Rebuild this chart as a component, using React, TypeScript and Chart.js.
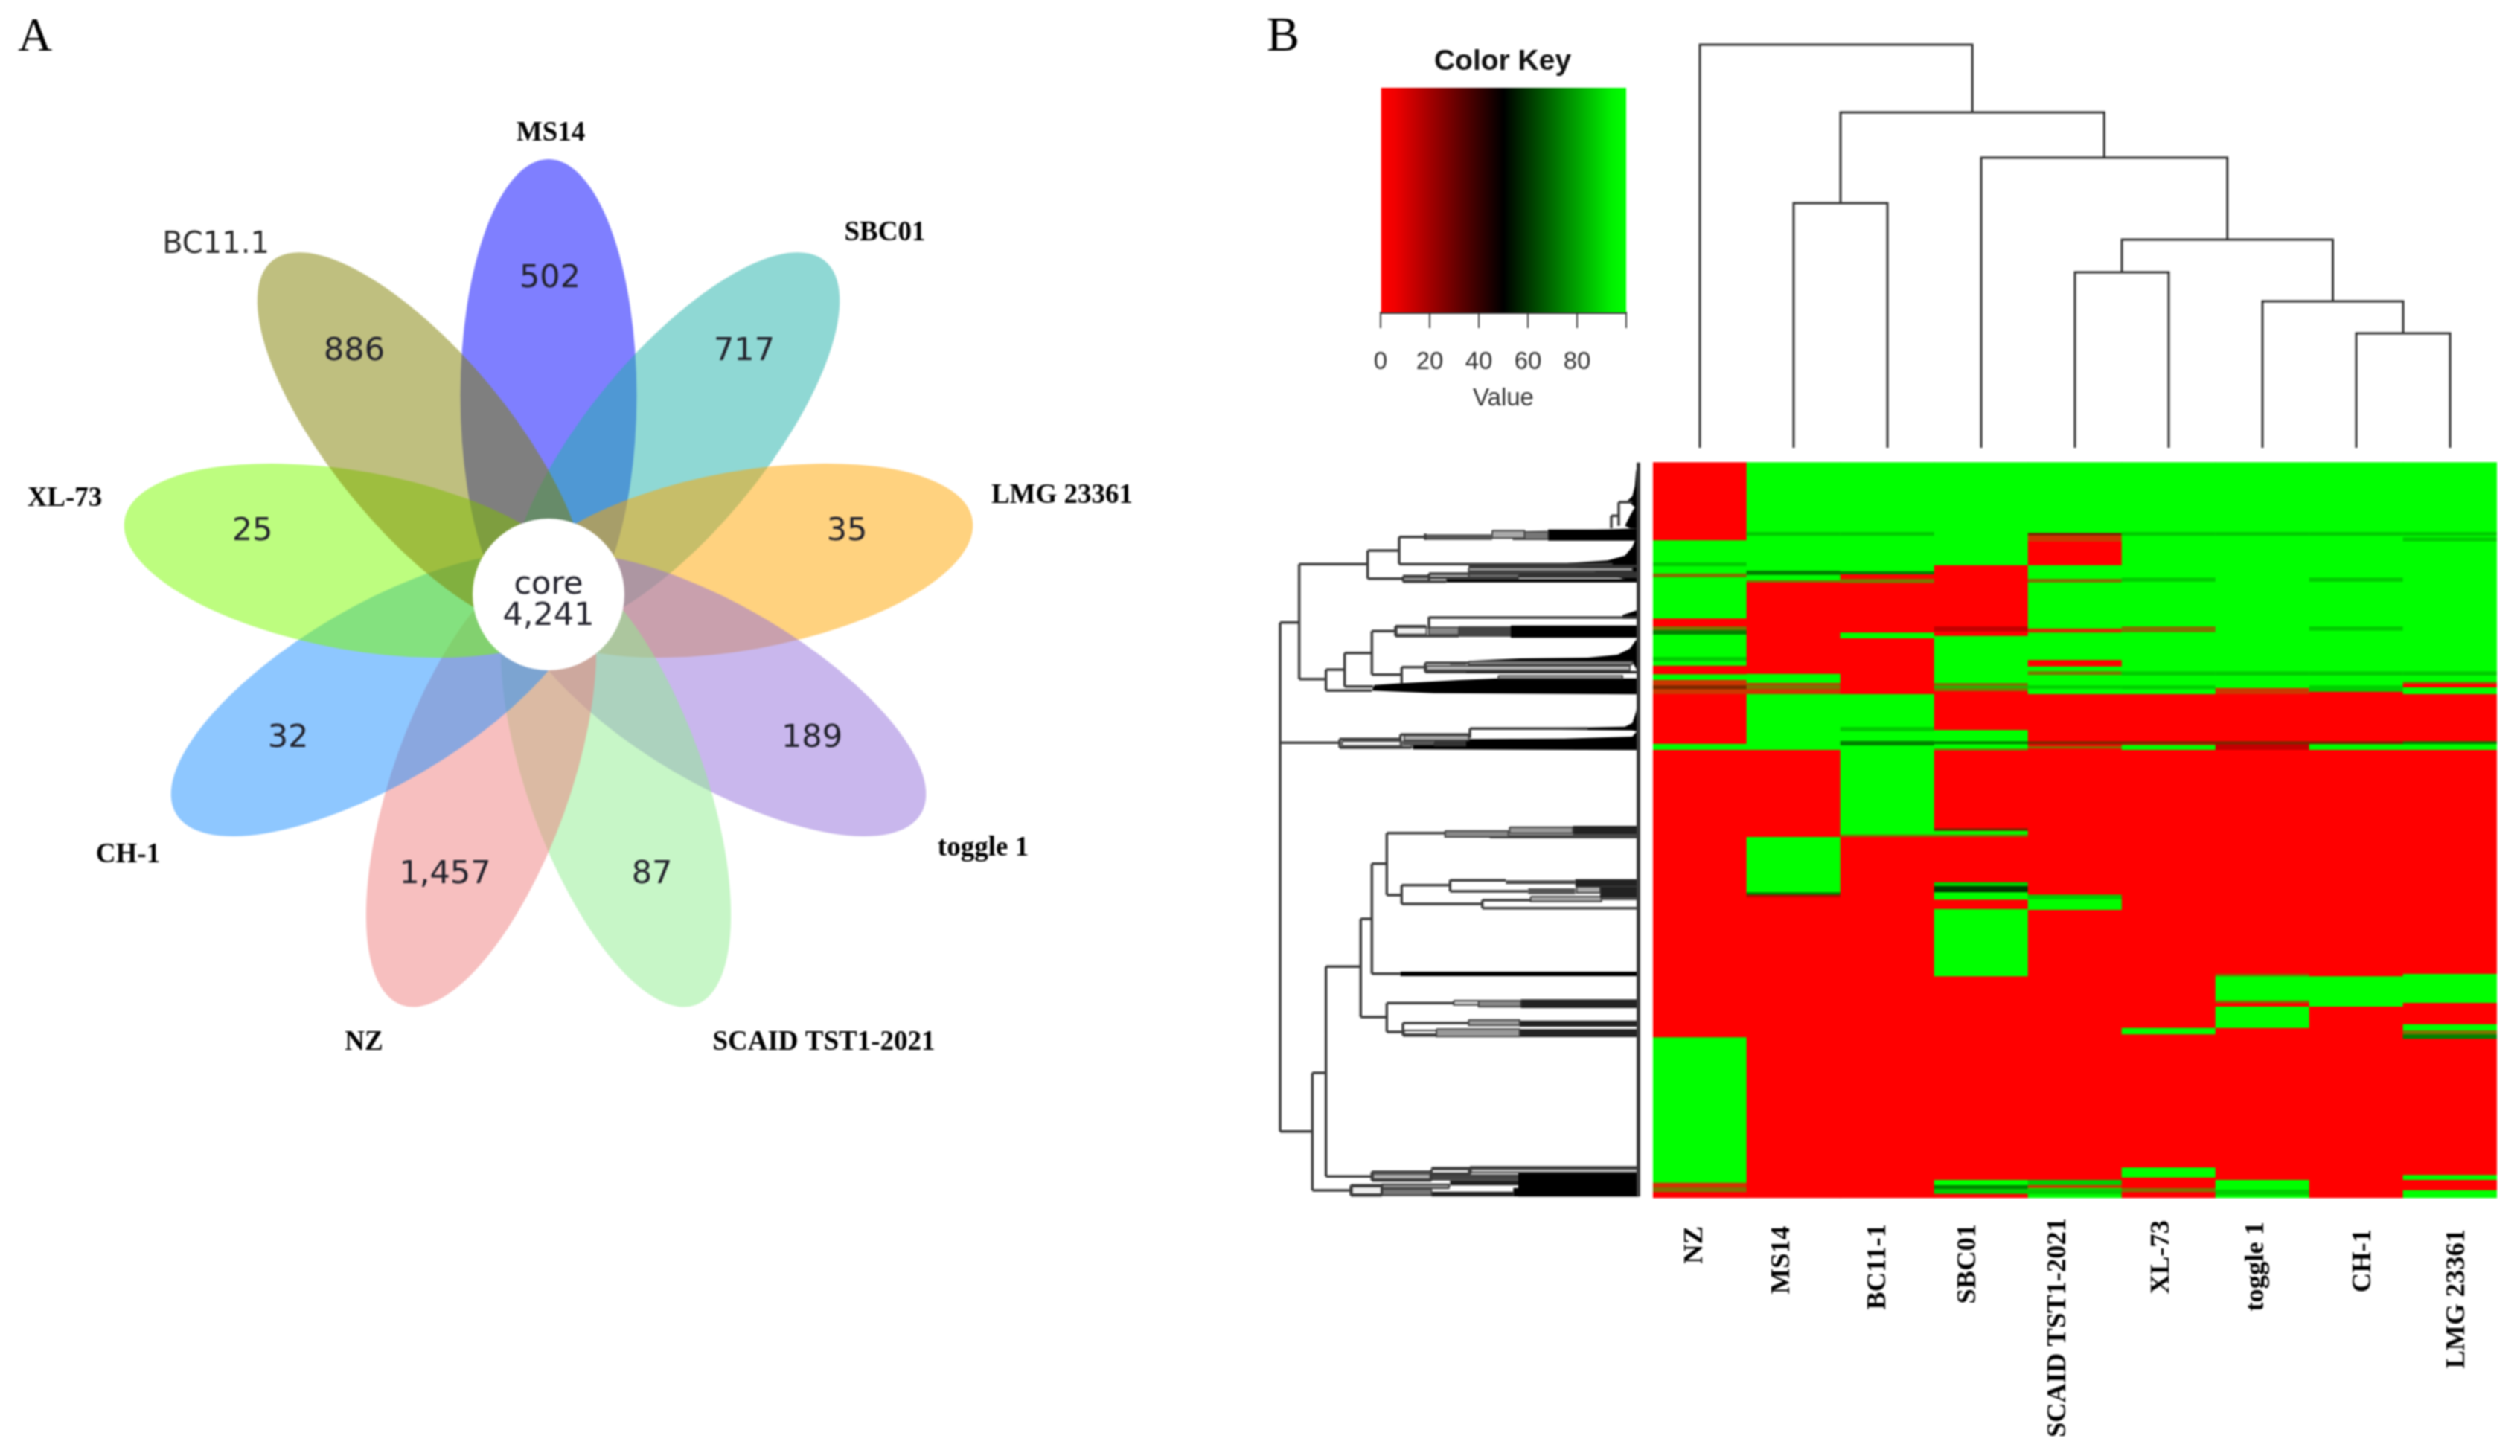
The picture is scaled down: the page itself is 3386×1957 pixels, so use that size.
import React, { useEffect, useRef } from "react";
import { Chart, registerables } from "chart.js";

Chart.register(...registerables);

/* ---------- Panel A: petal diagram ---------- */
const petalNames = ["MS14", "SBC01", "LMG 23361", "toggle 1", "SCAID TST1-2021", "NZ", "CH-1", "XL-73", "BC11.1"];
const petalCounts = ["502", "717", "35", "189", "87", "1,457", "32", "25", "886"];
const petalAngles = [90, 50, 10, -30, -70, -110, -150, 170, 130];
const petalColors = [
  "rgba(0,0,255,0.5)", "rgba(32,178,170,0.5)", "rgba(255,165,0,0.5)", "rgba(147,112,219,0.5)",
  "rgba(144,238,144,0.5)", "rgba(240,128,128,0.5)", "rgba(30,144,255,0.5)", "rgba(124,252,0,0.5)", "rgba(128,128,0,0.5)",
];
const coreLabel = ["core", "4,241"];
const countSpots = [[739, 375], [1000, 473], [1138, 715], [1091, 993], [876, 1176], [598, 1176], [387, 993], [339, 715], [476, 473]];
const nameSpots = [[740, 179], [1189, 313], [1427, 666], [1321, 1140], [1107, 1401], [489, 1401], [172, 1149], [87, 670], [290, 330]];

/* ---------- Panel B: colour key ---------- */
const keyTicks = [0, 20, 40, 60, 80, 100];
const keyStops: [number, string][] = [[0, "#ff0000"], [0.06, "#f00000"], [0.5, "#000000"], [0.94, "#00f000"], [1, "#00ff00"]];

/* ---------- Panel B: strains and their dendrogram ---------- */
const strains = ["NZ", "MS14", "BC11-1", "SBC01", "SCAID TST1-2021", "XL-73", "toggle 1", "CH-1", "LMG 23361"];
// merge = [left, right, height]; a child >= 0 is a strain, a child < 0 is merge number -1-child
const strainMerges: [number, number, number][] = [
  [7, 8, 154], [6, -1, 197], [4, 5, 236], [-3, -2, 280], [3, -4, 390], [1, 2, 329], [-6, -5, 451], [0, -7, 542],
];
const strainLabelX = [2278, 2395, 2524, 2645, 2766, 2905, 3032, 3176, 3302];
const strainLabelEnd = [1648, 1648, 1645, 1645, 1637, 1640, 1642, 1652, 1652];

/* ---------- Panel B: heat map runs per strain: [fromRow, toRow, shade], later ones lie on top ---------- */
const shades: Record<string, string> = {
  G: "rgb(0,255,0)", R: "rgb(255,0,0)", g: "rgb(0,205,0)", d: "rgb(0,130,0)",
  o: "rgb(125,115,0)", b: "rgb(205,55,0)", m: "rgb(120,40,0)", n: "rgb(0,60,0)", e: "rgb(195,0,0)",
};
type Run = [number, number, string];
const runsNZ: Run[] = [
  [35, 350, "R"], [350, 665, "G"], [438, 452, "g"], [483, 497, "o"], [665, 697, "R"], [697, 712, "o"], [712, 730, "d"],
  [730, 855, "G"], [820, 835, "g"], [855, 890, "R"], [890, 912, "G"], [912, 935, "b"], [935, 950, "m"], [950, 970, "b"],
  [970, 1170, "R"], [1170, 1195, "G"], [1195, 2354, "R"], [2354, 2940, "G"], [2940, 2960, "b"], [2960, 2978, "o"], [2978, 3000, "R"],
];
const runsMS14: Run[] = [
  [35, 520, "G"], [316, 330, "g"], [472, 487, "d"], [510, 520, "o"], [520, 888, "R"], [888, 925, "G"], [925, 932, "b"],
  [932, 950, "o"], [950, 970, "b"], [970, 1195, "G"], [1195, 1546, "R"], [1546, 1769, "G"], [1769, 1779, "d"], [1779, 1790, "e"], [1790, 3000, "R"],
];
const runsBC11: Run[] = [
  [35, 475, "G"], [316, 330, "g"], [474, 487, "d"], [487, 505, "R"], [505, 522, "o"], [522, 722, "R"], [722, 745, "G"],
  [745, 970, "R"], [970, 1535, "G"], [1102, 1118, "g"], [1158, 1175, "d"], [1536, 1546, "o"], [1546, 3000, "R"],
];
const runsSBC01: Run[] = [
  [35, 450, "G"], [450, 700, "R"], [697, 717, "e"], [717, 735, "R"], [735, 925, "G"], [925, 938, "o"], [938, 945, "g"], [945, 958, "o"],
  [958, 1115, "R"], [1115, 1160, "G"], [1160, 1172, "d"], [1172, 1190, "G"], [1190, 1198, "o"], [1198, 1511, "R"], [1511, 1521, "m"],
  [1521, 1536, "G"], [1536, 1546, "o"], [1546, 1728, "R"], [1728, 1744, "g"], [1744, 1769, "n"], [1769, 1799, "G"], [1799, 1837, "R"],
  [1837, 2108, "G"], [2108, 2929, "R"], [2929, 2950, "G"], [2950, 2965, "d"], [2965, 2985, "g"], [2985, 3000, "R"],
];
const runsSCAID: Run[] = [
  [35, 320, "G"], [320, 330, "m"], [330, 355, "b"], [355, 450, "R"], [450, 505, "G"], [505, 520, "o"], [520, 705, "G"], [705, 722, "b"],
  [722, 833, "G"], [833, 858, "R"], [858, 878, "G"], [878, 893, "o"], [893, 935, "G"], [935, 948, "g"], [948, 970, "G"],
  [970, 1160, "R"], [1160, 1172, "m"], [1172, 1180, "R"], [1180, 1190, "o"], [1190, 1779, "R"], [1779, 1840, "G"], [1779, 1795, "g"],
  [1840, 2929, "R"], [2929, 2950, "g"], [2950, 2962, "b"], [2962, 3000, "G"], [2965, 2985, "g"],
];
const runsXL73: Run[] = [
  [35, 970, "G"], [316, 330, "g"], [500, 515, "g"], [697, 718, "o"], [878, 893, "g"], [935, 948, "g"], [970, 1160, "R"], [1160, 1172, "m"],
  [1172, 1175, "R"], [1175, 1195, "G"], [1195, 2316, "R"], [2316, 2342, "G"], [2342, 2879, "R"], [2879, 2919, "G"], [2919, 2962, "R"],
  [2962, 2978, "o"], [2978, 3000, "R"],
];
const runsToggle: Run[] = [
  [35, 945, "G"], [316, 330, "g"], [878, 893, "g"], [945, 970, "b"], [970, 1160, "R"], [1160, 1172, "m"], [1172, 1195, "e"], [1195, 2098, "R"],
  [2098, 2108, "o"], [2108, 2205, "G"], [2205, 2215, "o"], [2215, 2230, "R"], [2230, 2316, "G"], [2316, 2929, "R"], [2929, 2968, "G"],
  [2968, 2990, "g"], [2990, 3000, "G"],
];
const runsCH1: Run[] = [
  [35, 960, "G"], [316, 330, "g"], [500, 515, "g"], [697, 712, "g"], [878, 893, "g"], [935, 958, "g"], [960, 1160, "R"], [1160, 1172, "m"],
  [1172, 1195, "G"], [1195, 2108, "R"], [2108, 2230, "G"], [2230, 3000, "R"],
];
const runsLMG: Run[] = [
  [35, 920, "G"], [316, 330, "g"], [338, 352, "g"], [878, 893, "g"], [920, 928, "o"], [928, 943, "R"], [943, 970, "G"], [970, 1160, "R"],
  [1160, 1172, "d"], [1172, 1195, "G"], [1195, 2098, "R"], [2098, 2215, "G"], [2215, 2301, "R"], [2301, 2326, "G"], [2326, 2342, "o"],
  [2342, 2360, "d"], [2360, 2909, "R"], [2909, 2929, "G"], [2929, 2970, "R"], [2970, 3000, "G"],
];
const strainRuns = [runsNZ, runsMS14, runsBC11, runsSBC01, runsSCAID, runsXL73, runsToggle, runsCH1, runsLMG];

/* ---------- Panel B: gene dendrogram, [depth1, row1, depth2, row2] ---------- */
const geneTreeLines: number[][] = [
  [60, 680, 60, 2732], [60, 680, 137, 680], [60, 1165, 300, 1165], [60, 2732, 190, 2732],
  [137, 445, 137, 908], [137, 445, 413, 445], [137, 908, 245, 908], [413, 390, 413, 503], [413, 390, 540, 390], [413, 503, 555, 503],
  [540, 335, 540, 445], [540, 335, 645, 335], [540, 445, 1400, 445], [555, 495, 555, 512], [645, 322, 645, 347],
  [555, 493, 660, 493], [555, 515, 730, 515], [660, 483, 660, 515], [660, 483, 1020, 483], [660, 500, 1020, 500],
  [1425, 195, 1425, 290], [1425, 195, 1480, 195], [1395, 250, 1425, 250], [1395, 250, 1395, 300],
  [430, 715, 430, 890], [430, 715, 525, 715], [525, 695, 525, 735], [525, 695, 650, 695], [525, 735, 780, 735],
  [660, 657, 660, 705], [660, 660, 1500, 660], [430, 890, 550, 890], [320, 803, 430, 803], [320, 803, 320, 938],
  [245, 870, 320, 870], [245, 870, 245, 955], [245, 955, 430, 955], [320, 938, 435, 938],
  [550, 860, 550, 925], [550, 860, 645, 860], [645, 843, 645, 880], [645, 843, 820, 843], [645, 880, 810, 880],
  [825, 1108, 825, 1145], [825, 1108, 1300, 1108], [300, 1150, 300, 1185], [300, 1150, 545, 1150], [300, 1185, 590, 1185],
  [545, 1132, 545, 1160], [545, 1132, 820, 1132],
  [190, 2496, 190, 2970], [190, 2496, 245, 2496], [245, 2068, 245, 2914], [245, 2068, 385, 2068], [385, 1875, 385, 2271],
  [385, 1875, 430, 1875], [430, 1652, 430, 2096], [430, 1652, 490, 1652], [490, 1529, 490, 1779], [490, 1529, 725, 1529],
  [490, 1779, 550, 1779], [550, 1739, 550, 1815], [550, 1739, 745, 1739], [550, 1815, 875, 1815], [745, 1718, 745, 1764],
  [745, 1764, 1060, 1764], [745, 1720, 970, 1720], [875, 1800, 875, 1832], [875, 1800, 1070, 1800], [875, 1832, 1505, 1832], [430, 2096, 545, 2096],
  [385, 2271, 490, 2271], [490, 2215, 490, 2331], [490, 2215, 760, 2215], [490, 2331, 555, 2331], [555, 2295, 555, 2345],
  [555, 2295, 820, 2295], [555, 2345, 690, 2345], [190, 2970, 340, 2970], [245, 2914, 430, 2914], [430, 2895, 430, 2930],
  [430, 2895, 670, 2895], [430, 2930, 670, 2930], [670, 2885, 670, 2930], [825, 2877, 825, 2905], [825, 2877, 1505, 2877],
  [345, 2950, 345, 2990], [345, 2950, 470, 2950], [345, 2990, 470, 2990], [470, 2945, 470, 2985], [670, 2880, 825, 2880], [670, 2905, 825, 2905],
];
// [depth1, depth2, row1, row2, shade]
const geneTreeBands: [number, number, number, number, string][] = [
  [1497, 1512, 35, 2995, "#3c3c3c"],
  [645, 915, 325, 347, "#555"], [915, 1045, 310, 340, "#aaa"], [1045, 1140, 315, 345, "#777"], [1140, 1505, 305, 350, "#000"], [1000, 1250, 335, 345, "#aaa"],
  [820, 1505, 448, 458, "#333"], [820, 1480, 460, 472, "#bbb"], [660, 820, 487, 498, "#ddd"], [820, 1020, 475, 500, "#777"], [1020, 1505, 475, 500, "#333"],
  [730, 1505, 505, 518, "#000"], [555, 660, 497, 512, "#999"],
  [530, 650, 700, 728, "#eee"], [660, 780, 700, 730, "#888"], [780, 990, 695, 738, "#444"], [990, 1505, 692, 742, "#000"],
  [745, 810, 840, 850, "#000"], [820, 1480, 838, 850, "#999"], [650, 1470, 855, 872, "#bbb"], [810, 1505, 875, 885, "#222"], [940, 1440, 895, 905, "#ccc"],
  [560, 820, 1135, 1155, "#aaa"], [555, 680, 1157, 1175, "#555"], [680, 810, 1157, 1180, "#333"], [310, 545, 1158, 1178, "#eee"], [550, 590, 1160, 1185, "#aaa"],
  [725, 980, 1520, 1545, "#888"], [985, 1240, 1505, 1530, "#999"], [905, 1505, 1535, 1551, "#444"], [1240, 1505, 1500, 1535, "#222"],
  [970, 1250, 1720, 1735, "#444"], [1250, 1505, 1715, 1745, "#222"], [1060, 1250, 1752, 1775, "#555"], [1255, 1350, 1745, 1770, "#aaa"],
  [1350, 1505, 1745, 1790, "#222"], [1070, 1355, 1785, 1805, "#aaa"], [1355, 1505, 1790, 1800, "#555"],
  [545, 1505, 2088, 2106, "#000"],
  [760, 860, 2205, 2222, "#ccc"], [860, 1030, 2205, 2230, "#888"], [1030, 1505, 2200, 2235, "#222"],
  [820, 1025, 2282, 2305, "#999"], [1025, 1505, 2285, 2310, "#222"], [560, 690, 2325, 2340, "#eee"], [690, 1025, 2320, 2350, "#999"], [1025, 1505, 2320, 2352, "#222"],
  [830, 1500, 2883, 2897, "#ccc"], [435, 665, 2903, 2925, "#aaa"], [670, 820, 2885, 2900, "#eee"], [670, 1020, 2905, 2930, "#444"], [1020, 1505, 2897, 2995, "#000"],
  [745, 1505, 2930, 2950, "#222"], [350, 470, 2955, 2985, "#eee"], [470, 740, 2945, 2962, "#888"], [530, 745, 2948, 2958, "#333"], [470, 670, 2965, 2990, "#777"],
  [670, 1000, 2975, 2995, "#222"], [1000, 1505, 2960, 2995, "#000"],
];
const lightBandShades = ["#777", "#888", "#999", "#aaa", "#bbb", "#ccc", "#ddd", "#eee"];
const geneTreeWedges: number[][][] = [
  [[1505, 35], [1495, 70], [1490, 130], [1480, 170], [1460, 190], [1490, 215], [1470, 250], [1450, 290], [1470, 300], [1505, 300]],
  [[1380, 305], [1050, 310], [1505, 310], [1505, 300]],
  [[1220, 440], [1380, 430], [1450, 410], [1480, 375], [1490, 350], [1505, 345], [1505, 520], [1220, 448]],
  [[1440, 650], [1500, 630], [1505, 665], [1440, 665]],
  [[1030, 825], [1300, 822], [1420, 810], [1470, 785], [1495, 750], [1505, 745], [1505, 885], [1480, 838], [820, 835]],
  [[940, 905], [780, 912], [550, 925], [440, 932], [430, 955], [680, 965], [1505, 970], [1505, 905]],
  [[1505, 975], [1495, 1040], [1480, 1085], [1450, 1100], [1300, 1103], [1090, 1105], [1090, 1112], [1480, 1115], [1505, 1120]],
  [[1205, 1148], [1480, 1140], [1505, 1110], [1505, 1195], [595, 1192], [595, 1170], [810, 1150]],
];

/* ---------- text helper ---------- */
type Txt = { t: string; x: number; y: number; font: string; color?: string; rot?: boolean };
const NAME_FONT = 'bold 37px "Liberation Serif"';
const STRAIN_FONT = 'bold 36.5px "Liberation Serif"';
const COUNT_FONT = '43px "DejaVu Sans"';
const COUNT_COLOR = "#22222c";

function textPlugin(items: Txt[]) {
  return {
    id: "texts",
    afterDraw(chart: any) {
      const c = chart.ctx;
      for (const it of items) {
        c.save();
        c.font = it.font;
        c.fillStyle = it.color || "#000";
        c.textBaseline = "middle";
        c.translate(it.x, it.y);
        if (it.rot) {
          c.rotate(-Math.PI / 2);
          c.textAlign = "right";
        } else {
          c.textAlign = "center";
        }
        c.fillText(it.t, 0, 0);
        c.restore();
      }
    },
  };
}

const hiddenLinear = (min: number, max: number, reverse = false) => ({ type: "linear", display: false, min, max, reverse });
const baseOptions = {
  responsive: false,
  animation: false,
  devicePixelRatio: 1,
  plugins: { legend: { display: false }, tooltip: { enabled: false }, title: { display: false } },
  layout: { padding: 0 },
};

/* ---------- chart configs ---------- */
function vennConfig() {
  const cx = 737, cy = 800, dist = 268, a = 318, b = 120, coreR = 102, squeeze = 0.987;
  const rad = (d: number) => (d * Math.PI) / 180;
  const centres = petalAngles.map((d) => ({ x: cx + dist * Math.cos(rad(d)), y: cy - dist * Math.sin(rad(d)) }));
  const petals = {
    id: "petals",
    beforeDatasetsDraw(chart: any) {
      const { ctx, scales } = chart;
      const px = (v: number) => scales.x.getPixelForValue(v);
      const py = (v: number) => scales.y.getPixelForValue(v);
      centres.forEach((p, i) => {
        ctx.save();
        ctx.translate(px(cx), 0);
        ctx.scale(squeeze, 1);
        ctx.translate(-px(cx), 0);
        ctx.beginPath();
        ctx.ellipse(px(p.x), py(p.y), a, b, -rad(petalAngles[i]), 0, Math.PI * 2);
        ctx.fillStyle = petalColors[i];
        ctx.fill();
        ctx.restore();
      });
      ctx.beginPath();
      ctx.arc(px(cx), py(cy - 1), coreR, 0, Math.PI * 2);
      ctx.fillStyle = "#fff";
      ctx.fill();
    },
  };
  const texts: Txt[] = [
    { t: "A", x: 47, y: 51, font: '64px "Liberation Serif"' },
    { t: coreLabel[0], x: 737, y: 787, font: COUNT_FONT, color: COUNT_COLOR },
    { t: coreLabel[1], x: 737, y: 829, font: COUNT_FONT, color: COUNT_COLOR },
  ];
  petalCounts.forEach((t, i) => texts.push({ t, x: countSpots[i][0], y: countSpots[i][1], font: COUNT_FONT, color: COUNT_COLOR }));
  petalNames.forEach((t, i) =>
    texts.push({
      t, x: nameSpots[i][0], y: nameSpots[i][1],
      font: t === "BC11.1" ? '40px "DejaVu Sans"' : NAME_FONT,
      color: t === "BC11.1" ? "#2a2a2a" : "#000",
    })
  );
  return {
    type: "scatter",
    data: { datasets: [{ label: "petals", data: centres, pointRadius: 0, showLine: false }] },
    options: { ...baseOptions, scales: { x: hiddenLinear(0, 1680), y: hiddenLinear(0, 1500, true) } },
    plugins: [petals, textPlugin(texts)],
  };
}

function keyConfig() {
  return {
    type: "bar",
    data: {
      labels: ["Value"],
      datasets: [{
        data: [[keyTicks[0], keyTicks[keyTicks.length - 1]]],
        barPercentage: 1,
        categoryPercentage: 1,
        borderWidth: 0,
        backgroundColor: (ctx: any) => {
          const area = ctx.chart.chartArea;
          if (!area) return "#000";
          const g = ctx.chart.ctx.createLinearGradient(area.left, 0, area.right, 0);
          keyStops.forEach(([s, c]) => g.addColorStop(s, c));
          return g;
        },
      }],
    },
    options: {
      ...baseOptions,
      indexAxis: "y",
      layout: { padding: { left: 175, right: 55, top: 118, bottom: 64 } },
      scales: {
        y: { display: false },
        x: {
          type: "linear", min: 0, max: 100, position: "bottom",
          afterBuildTicks: (s: any) => { s.ticks = keyTicks.map((value) => ({ value })); },
          afterFit: (s: any) => { s.height = 136; },
          border: { display: true, color: "#333", width: 3 },
          grid: { drawOnChartArea: false, drawTicks: true, tickLength: 21, tickColor: "#444", tickWidth: 2, lineWidth: 2 },
          ticks: {
            color: "#333", font: { family: "Liberation Sans", size: 33 }, padding: 26, autoSkip: false, maxRotation: 0,
            callback: (v: number) => (v === 100 ? "" : String(v)),
          },
          title: { display: true, text: "Value", color: "#333", font: { family: "Liberation Sans", size: 33 }, padding: 0 },
        },
      },
    },
    plugins: [textPlugin([
      { t: "B", x: 44, y: 51, font: '66px "Liberation Serif"' },
      { t: "Color Key", x: 339, y: 83, font: 'bold 39px "Liberation Sans"', color: "#111" },
    ])],
  };
}

function strainTreeConfig() {
  const xs: number[] = [];
  const childX = (c: number) => (c >= 0 ? c : xs[-1 - c]);
  const childH = (c: number) => (c >= 0 ? 0 : strainMerges[-1 - c][2]);
  const pts: any[] = [];
  strainMerges.forEach(([l, r, h]) => {
    const xl = childX(l), xr = childX(r);
    xs.push((xl + xr) / 2);
    pts.push({ x: xl, y: childH(l) }, { x: xl, y: h }, { x: xr, y: h }, { x: xr, y: childH(r) }, { x: null, y: null });
  });
  return {
    type: "scatter",
    data: { datasets: [{ data: pts, showLine: true, pointRadius: 0, borderColor: "#333", borderWidth: 3, spanGaps: false }] },
    options: { ...baseOptions, scales: { x: hiddenLinear(-0.5, 8.5), y: hiddenLinear(-18, 602) } },
  };
}

function geneTreeConfig() {
  const datasets: any[] = [];
  const linePts: any[] = [];
  geneTreeLines.forEach(([a, b, c, d]) => linePts.push({ x: a, y: b }, { x: c, y: d }, { x: null, y: null }));
  datasets.push({ data: linePts, showLine: true, pointRadius: 0, borderColor: "#3c3c3c", borderWidth: 3.5, spanGaps: false, fill: false });
  geneTreeBands.forEach(([a, b, r1, r2, shade]) =>
    datasets.push({
      data: [{ x: a, y: r1 }, { x: b, y: r1 }, { x: b, y: r2 }, { x: a, y: r2 }, { x: a, y: r1 }],
      showLine: true, pointRadius: 0,
      borderWidth: lightBandShades.includes(shade) ? 2 : 0,
      borderColor: lightBandShades.includes(shade) ? "#444" : shade,
      backgroundColor: shade, fill: "shape",
    })
  );
  geneTreeWedges.forEach((w) =>
    datasets.push({
      data: [...w, w[0]].map(([x, y]) => ({ x, y })),
      showLine: true, pointRadius: 0, borderWidth: 0, borderColor: "#000", backgroundColor: "#000", fill: "shape",
    })
  );
  return {
    type: "scatter",
    data: { datasets },
    options: { ...baseOptions, scales: { x: hiddenLinear(0, 1518), y: hiddenLinear(0, 3030, true) } },
  };
}

function heatConfig() {
  const datasets: any[] = [];
  strainRuns.forEach((runs, col) =>
    runs.forEach(([from, to, shade]) => {
      const data: any[] = strains.map(() => null);
      data[col] = [from, to];
      datasets.push({
        data, backgroundColor: shades[shade], borderWidth: 0, grouped: false, barPercentage: 1, categoryPercentage: 1,
      });
    })
  );
  datasets.reverse(); // Chart.js paints the last dataset first
  const texts: Txt[] = strains.map((t, i) => ({
    t, x: strainLabelX[i] - 2221, y: strainLabelEnd[i] - 610, font: STRAIN_FONT, rot: true,
  }));
  return {
    type: "bar",
    data: { labels: strains, datasets },
    options: {
      ...baseOptions,
      layout: { padding: { bottom: 337 } },
      scales: { x: { type: "category", display: false }, y: hiddenLinear(0, 3030, true) },
    },
    plugins: [textPlugin(texts)],
  };
}

/* ---------- React ---------- */
function Panel({ left, top, width, height, make }: { left: number; top: number; width: number; height: number; make: () => any }) {
  const ref = useRef<HTMLCanvasElement | null>(null);
  useEffect(() => {
    const chart = new Chart(ref.current as HTMLCanvasElement, make());
    return () => chart.destroy();
  }, [make]);
  return <canvas ref={ref} width={width} height={height} style={{ position: "absolute", left, top, width, height }} />;
}

export default function App() {
  return (
    <div style={{ position: "fixed", left: 0, top: 0, width: 3386, height: 1957, background: "#fff", overflow: "hidden", filter: "blur(1px)" }}>
      <Panel left={0} top={0} width={1680} height={1500} make={vennConfig} />
      <Panel left={1680} top={0} width={560} height={620} make={keyConfig} />
      <Panel left={2221} top={0} width={1134} height={620} make={strainTreeConfig} />
      <Panel left={1700} top={610} width={506} height={1010} make={geneTreeConfig} />
      <Panel left={2221} top={610} width={1134} height={1347} make={heatConfig} />
    </div>
  );
}
